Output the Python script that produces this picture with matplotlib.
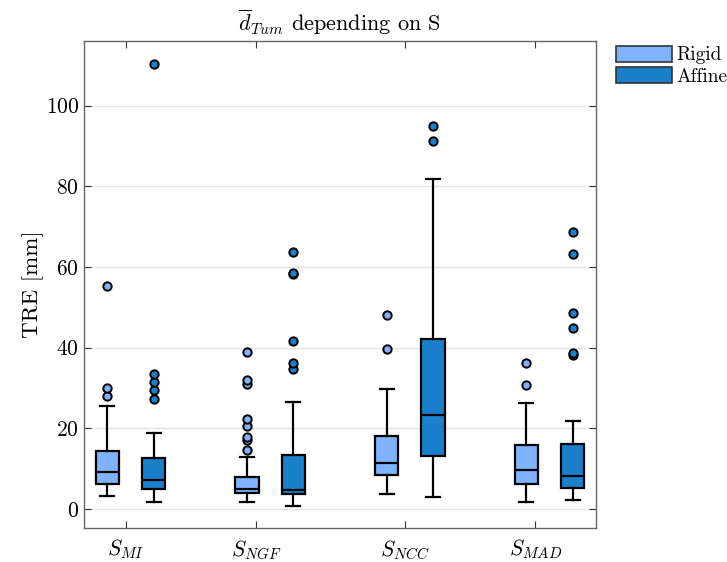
import matplotlib
matplotlib.use("Agg")
import matplotlib.pyplot as plt
from matplotlib.patches import Patch

plt.rcParams['font.family'] = 'cmr10'
plt.rcParams['mathtext.fontset'] = 'cm'
plt.rcParams['axes.unicode_minus'] = False
plt.rcParams['axes.formatter.use_mathtext'] = True

# TRE statistics per similarity measure (whislo, q1, med, q3, whishi) + outliers
measures = [r'$S_{MI}$', r'$S_{NGF}$', r'$S_{NCC}$', r'$S_{MAD}$']
methods = ['Rigid', 'Affine']

rigid_stats = [
    [3.3, 6.2, 9.1, 14.5, 25.6],
    [1.7, 3.9, 5.0, 8.0, 12.9],
    [3.7, 8.5, 11.5, 18.0, 29.7],
    [1.7, 6.1, 9.7, 15.8, 26.3],
]
rigid_fliers = [
    [27.9, 30.0, 55.2],
    [14.6, 17.1, 17.9, 20.5, 22.4, 31.1, 31.9, 39.0],
    [39.7, 48.1],
    [30.7, 36.3],
]
affine_stats = [
    [1.7, 5.0, 7.3, 12.7, 18.8],
    [0.7, 3.7, 4.8, 13.3, 26.6],
    [3.0, 13.2, 23.4, 42.2, 81.9],
    [2.3, 5.2, 8.2, 16.1, 21.9],
]
affine_fliers = [
    [27.3, 29.5, 31.6, 33.5, 110.4],
    [34.6, 36.1, 41.6, 58.2, 58.4, 63.6],
    [91.3, 95.0],
    [38.1, 38.7, 44.9, 48.7, 63.2, 68.6],
]

rigid_pos = [1, 4, 7, 10]
affine_pos = [2, 5, 8, 11]
tick_pos = [1.4, 4.2, 7.4, 10.2]

colors = {'Rigid': '#80B3FF', 'Affine': '#1A80CC'}


def to_bxp(stats, fliers):
    out = []
    for s, f in zip(stats, fliers):
        out.append(dict(whislo=s[0], q1=s[1], med=s[2], q3=s[3], whishi=s[4], fliers=f))
    return out


fig = plt.figure(figsize=(7.27, 5.62), dpi=100)
ax = fig.add_axes([84 / 727, 1 - 528 / 562, 512 / 727, 487 / 562])

for name, stats, fliers, pos in [('Rigid', rigid_stats, rigid_fliers, rigid_pos),
                                 ('Affine', affine_stats, affine_fliers, affine_pos)]:
    c = colors[name]
    ax.bxp(to_bxp(stats, fliers), positions=pos, widths=0.5, patch_artist=True,
           manage_ticks=False, capwidths=0.3,
           boxprops=dict(facecolor=c, edgecolor='black', linewidth=1.6),
           medianprops=dict(color='black', linewidth=1.6),
           whiskerprops=dict(color='black', linewidth=1.6),
           capprops=dict(color='black', linewidth=1.6),
           flierprops=dict(marker='o', markerfacecolor=c, markeredgecolor='black',
                           markersize=6, markeredgewidth=1.4))

ax.set_xlim(0.5, 11.5)
ax.set_ylim(-4.7, 116)
ax.set_yticks([0, 20, 40, 60, 80, 100])
ax.set_xticks(tick_pos)
ax.set_xticklabels(measures, fontsize=16.5)
ax.tick_params(axis='both', direction='in', top=True, right=True, length=5,
               width=0.8, color='#333333', labelsize=15.5)
ax.tick_params(axis='x', pad=7)
ax.yaxis.grid(True, color='#e3e3e3', linewidth=1)
ax.set_axisbelow(True)
for sp in ax.spines.values():
    sp.set_color('#666666')
    sp.set_linewidth(1)

ax.set_ylabel('TRE [mm]', fontsize=16.5, labelpad=1)
ax.set_title(r'$\overline{d}_{Tum}$ depending on S', fontsize=16, pad=7)

handles = [Patch(facecolor=colors[m], edgecolor='#333333', linewidth=1.2) for m in methods]
fig.legend(handles, methods, loc='upper left', bbox_to_anchor=(616 / 727, 1 - 46 / 562),
           frameon=False, fontsize=14, handlelength=2.9, handleheight=0.85,
           labelspacing=0.15, handletextpad=0.2, borderpad=0, borderaxespad=0)

fig.savefig('out.png', dpi=100)
